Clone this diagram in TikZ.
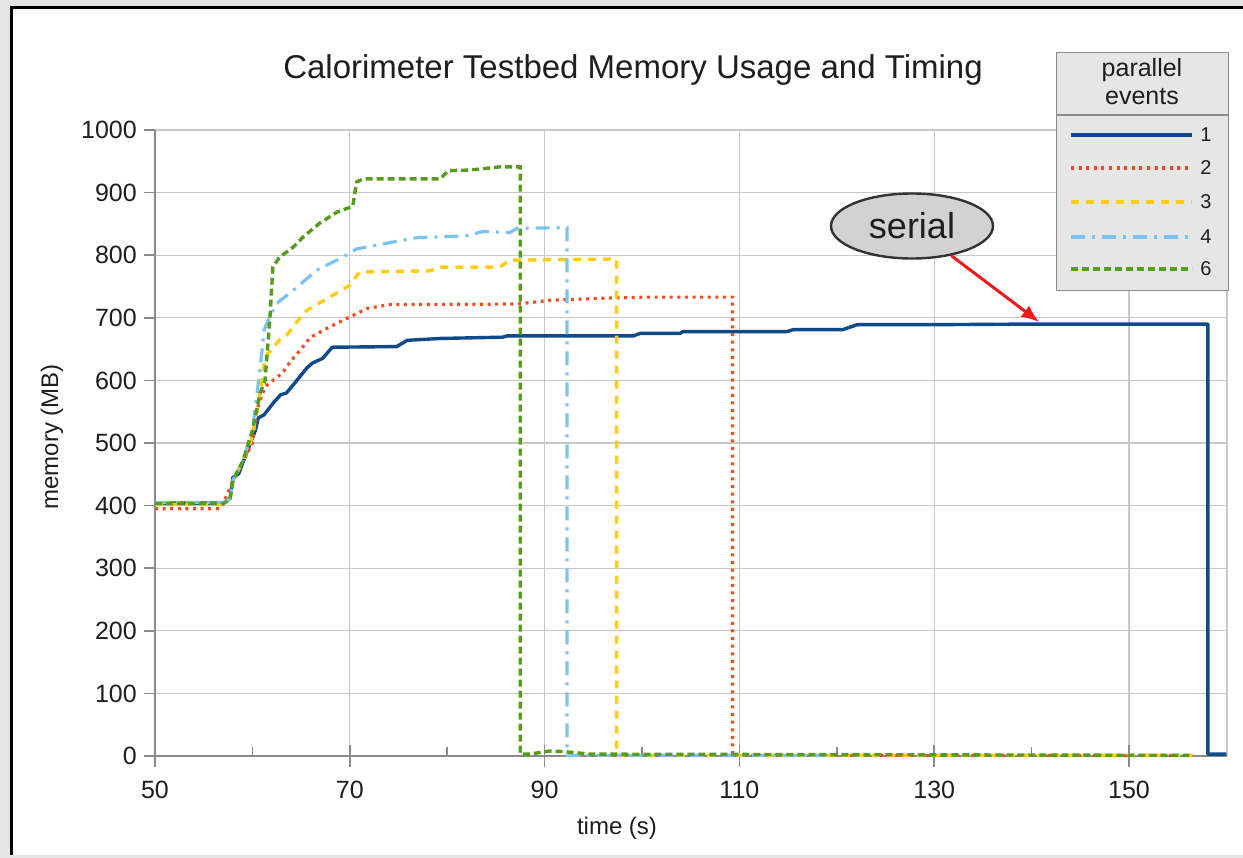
\documentclass[tikz,border=0pt]{standalone}
\usepackage{fontspec}
\setmainfont{Liberation Sans}
\usetikzlibrary{arrows.meta,shapes.geometric}

\definecolor{pagebg}{HTML}{E4E4E4}
\definecolor{gridc}{HTML}{C8C8C8}
\definecolor{axisc}{HTML}{8A8A8A}
\definecolor{txt}{HTML}{1E1E1E}
\definecolor{legfill}{HTML}{E6E6E6}
\definecolor{legline}{HTML}{8C8C8C}
\definecolor{ser1}{HTML}{0F4A8A}
\definecolor{ser2}{HTML}{F04E22}
\definecolor{ser3}{HTML}{FFCC14}
\definecolor{ser4}{HTML}{7CC2F2}
\definecolor{ser6}{HTML}{579D1C}
\definecolor{calloutfill}{HTML}{D2D2D2}
\definecolor{arrowred}{HTML}{EC1C1C}

\tikzset{
  gridline/.style={draw=gridc, line width=1.3pt},
  axisline/.style={draw=axisc, line width=1.6pt},
  ticklabel/.style={text=txt, font=\fontsize{25}{28}\selectfont, inner sep=0pt},
  axislabel/.style={text=txt, font=\fontsize{24}{28}\selectfont, inner sep=0pt},
  sone/.style={draw=ser1, line width=3.4pt, line join=round},
  stwo/.style={draw=ser2, line width=3.2pt, dash pattern=on 3pt off 4.6pt},
  sthree/.style={draw=ser3, line width=3.4pt, dash pattern=on 8pt off 7pt},
  sfour/.style={draw=ser4, line width=3.2pt, dash pattern=on 14pt off 7pt on 3pt off 7pt},
  ssix/.style={draw=ser6, line width=3.4pt, dash pattern=on 7pt off 4pt},
  legtext/.style={text=txt, font=\fontsize{25}{27}\selectfont, inner sep=0pt},
  legnum/.style={text=txt, font=\fontsize{20}{24}\selectfont, inner sep=0pt},
}

\begin{document}
\begin{tikzpicture}[x=1pt, y=-1pt]
\useasboundingbox (0,0) rectangle (1243,858);

% window frame
\fill[pagebg] (0,0) rectangle (1243,858);
\fill[white] (11,8) rectangle (1243,855);
\draw[black, line width=3pt] (11,855) -- (11,8) -- (1243,8);

% title
\node[text=txt, font=\fontsize{33}{38}\selectfont, inner sep=0pt] (title) at (633,70)
  {Calorimeter Testbed Memory Usage and Timing};

% horizontal grid and y labels
\foreach \m in {0,...,10} {
  \pgfmathsetmacro{\yy}{756-62.6*\m}
  \ifnum\m>0 \draw[gridline] (155,\yy) -- (1227,\yy); \fi
  \draw[axisline] (144,\yy) -- (155,\yy);
  \pgfmathtruncatemacro{\val}{100*\m}
  \node[ticklabel, anchor=east] (ylab\m) at (137,\yy) {\val};
}

% vertical grid and x labels
\foreach \t in {70,90,110,130,150} {
  \draw[gridline] ({155+9.74*(\t-50)},130) -- ({155+9.74*(\t-50)},756);
}
\draw[gridline] (1227,130) -- (1227,756);
\foreach \t in {50,70,90,110,130,150} {
  \draw[axisline] ({155+9.74*(\t-50)},745) -- ({155+9.74*(\t-50)},767);
  \node[ticklabel] (xlab\t) at ({155+9.74*(\t-50)},790) {\t};
}
\foreach \t in {60,80,100,120,140} {
  \draw[axisline] ({155+9.74*(\t-50)},747) -- ({155+9.74*(\t-50)},756);
}

% axes
\draw[axisline] (155,130) -- (155,767);
\draw[axisline] (144,756) -- (1227,756);

% axis titles
\node[axislabel] (xtitle) at (617,828) {time (s)};
\node[axislabel, rotate=90] (ytitle) at (52,437) {memory (MB)};

% data series (time in s, memory in MB)
\begin{scope}[xshift=-332pt, yshift=-756pt, x=9.74pt, y=0.626pt]
  % 1 parallel event
  \draw[sone] (50,404) -- (57,404) -- (57.7,411) -- (58,445) -- (58.6,451) -- (59.3,480)
    -- (59.8,500) -- (60.3,520) -- (60.6,540) -- (61.2,545) -- (62.2,565) -- (62.9,577)
    -- (63.5,580) -- (64.3,595) -- (65.6,620) -- (66.2,628) -- (67.2,635) -- (68.2,653)
    -- (74.8,654) -- (75.9,664) -- (79.3,667) -- (85.7,669) -- (86.1,671) -- (99.1,671)
    -- (99.8,675) -- (103.9,675) -- (104.2,678) -- (114.9,678) -- (115.5,681)
    -- (120.6,681) -- (122.1,689) -- (130,689) -- (140,690) -- (158.1,690)
    -- (158.1,3) -- (160,3);
  % 2 parallel events
  \draw[stwo] (50,395) -- (56.7,395) -- (57.2,410) -- (58,440) -- (59,470) -- (60,500)
    -- (60.5,555) -- (61.3,590) -- (63.1,612) -- (63.9,630) -- (64.9,648) -- (65.9,668)
    -- (67.5,682) -- (69.3,696) -- (71.8,715) -- (74.1,721) -- (87.2,722) -- (90.6,728)
    -- (95.7,731) -- (100,733) -- (109.3,733) -- (109.3,1) -- (156.5,1);
  % 3 parallel events
  \draw[sthree] (50,402) -- (57,402) -- (57.7,410) -- (58,440) -- (59,470) -- (60,510)
    -- (61,600) -- (61.3,637) -- (62.8,665) -- (63.5,672) -- (64.9,700) -- (65.6,712)
    -- (68.7,740) -- (70,752) -- (71,773) -- (78.2,775) -- (79.3,781) -- (85.4,781)
    -- (86.4,792) -- (97.4,794) -- (97.4,1) -- (156.5,1);
  % 4 parallel events
  \draw[sfour] (50,405) -- (57,405) -- (57.7,411) -- (58,440) -- (59,470) -- (60,520)
    -- (60.8,620) -- (61.2,680) -- (61.5,692) -- (62.5,723) -- (64.2,744) -- (66.6,776)
    -- (69.3,797) -- (70.7,810) -- (73.4,818) -- (76.9,828) -- (82,831) -- (83.7,838)
    -- (86.4,836) -- (87.2,843) -- (92.3,844) -- (92.3,1) -- (119,1);
  % 6 parallel events
  \draw[ssix] (50,403) -- (57,403) -- (57.7,410) -- (58,440) -- (58.4,453) -- (59,470)
    -- (60,520) -- (60.8,580) -- (61.3,600) -- (61.8,700) -- (62.1,781) -- (62.8,797)
    -- (64.2,813) -- (65.2,829) -- (66.9,851) -- (68.7,869) -- (70.3,878) -- (70.7,917)
    -- (71.4,922) -- (79.3,922) -- (80.1,935) -- (82.3,936) -- (85.4,941) -- (87.5,941)
    -- (87.5,3) -- (88.5,3) -- (90.5,8) -- (92,7) -- (94.7,3) -- (156.5,1);
  \coordinate (serialpt) at (140.8,693);
\end{scope}

% legend
\node[draw=legline, fill=legfill, line width=1.4pt, minimum width=172pt, minimum height=238pt,
      anchor=north west, inner sep=0pt] (legend) at (1056,52) {};
\draw[draw=legline, line width=1.4pt] (legend.west |- 0,115) -- (legend.east |- 0,115);
\node[legtext] (legtitleA) at (1142,70) {parallel};
\node[legtext] (legtitleB) at (1142,97) {events};
\draw[sone] (1071,135) -- (1192,135);
\draw[stwo] (1071,168) -- (1192,168);
\draw[sthree] (1071,202) -- (1192,202);
\draw[sfour] (1071,237) -- (1192,237);
\draw[ssix] (1071,269) -- (1192,269);
\node[legnum] (legA) at (1206,135) {1};
\node[legnum] (legB) at (1206,168) {2};
\node[legnum] (legC) at (1206,202) {3};
\node[legnum] (legD) at (1206,237) {4};
\node[legnum] (legE) at (1206,269) {6};

% callout
\node[ellipse, draw=black!80, fill=calloutfill, line width=2.4pt, minimum width=162pt,
      minimum height=65pt, inner sep=0pt, text=txt, font=\fontsize{36}{40}\selectfont]
      (serial) at (912,226) {serial};
\draw[arrowred, line width=3pt, -{Latex[length=18pt,width=14pt]}] (serial) -- (serialpt);

\end{tikzpicture}
\end{document}
